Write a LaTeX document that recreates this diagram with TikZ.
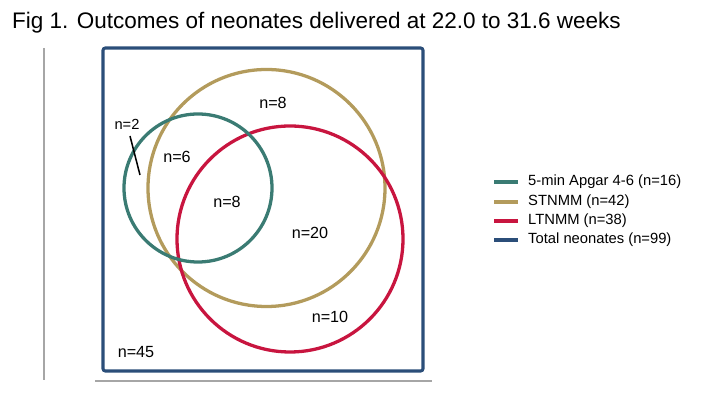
\documentclass[tikz,border=0pt]{standalone}
\usepackage{fontspec}
\setmainfont{Liberation Sans}
\definecolor{apgar}{HTML}{3A7B73}
\definecolor{stn}{HTML}{B39B5C}
\definecolor{ltn}{HTML}{C8153F}
\definecolor{tot}{HTML}{2B4E79}
\definecolor{axisgray}{HTML}{A6A6A6}
\tikzset{
  ring/.style={line width=2.8pt},
  cnt/.style={font=\fontsize{13.8pt}{16pt}\selectfont, inner sep=0pt},
  cntsmall/.style={font=\fontsize{12.5pt}{14pt}\selectfont, inner sep=0pt},
  legtext/.style={font=\fontsize{12.6pt}{14pt}\selectfont, anchor=west, inner sep=0pt},
  legline/.style={line width=3pt},
}
\begin{document}
\begin{tikzpicture}[x=0.03cm,y=-0.03cm]
\useasboundingbox (0,0) rectangle (720,405);
% title
\node[anchor=base west, inner sep=0pt, font=\fontsize{19.2pt}{22pt}\selectfont] (title) at (12,29) {Fig 1. Outcomes of neonates delivered at 22.0 to 31.6 weeks};
% axes lines
\draw[axisgray, line width=1.5pt] (44,48) -- (44,380);
\draw[axisgray, line width=1.5pt] (95,381) -- (432,381);
% total box
\draw[tot, line width=2.6pt, rounded corners=2pt] (103,48) rectangle (423,371);
% circles
\draw[ring, stn] (266.5,188) circle (118.5);
\draw[ring, ltn] (290,239) circle (113);
\draw[ring, apgar] (198,188) circle (74);
% counts
\node[cnt] (n8top) at (273,103) {n=8};
\node[cntsmall] (n2) at (127,124) {n=2};
\coordinate (n2end) at (140,175);
\draw[line width=1.3pt] (130,136) -- (n2end);
\node[cnt] (n6) at (177,157) {n=6};
\node[cnt] (n8mid) at (227,202) {n=8};
\node[cnt] (n20) at (310,233) {n=20};
\node[cnt] (n10) at (330,317) {n=10};
\node[cnt] (n45) at (136,352) {n=45};
% legend
\draw[legline, apgar] (494,182) -- (518,182);
\draw[legline, stn] (494,202) -- (518,202);
\draw[legline, ltn] (494,221) -- (518,221);
\draw[legline, tot] (494,240) -- (518,240);
\node[legtext] (l1) at (528,182) {5-min Apgar 4-6 (n=16)};
\node[legtext] (l2) at (528,202) {STNMM (n=42)};
\node[legtext] (l3) at (528,221) {LTNMM (n=38)};
\node[legtext] (l4) at (528,240) {Total neonates (n=99)};
\end{tikzpicture}
\end{document}
